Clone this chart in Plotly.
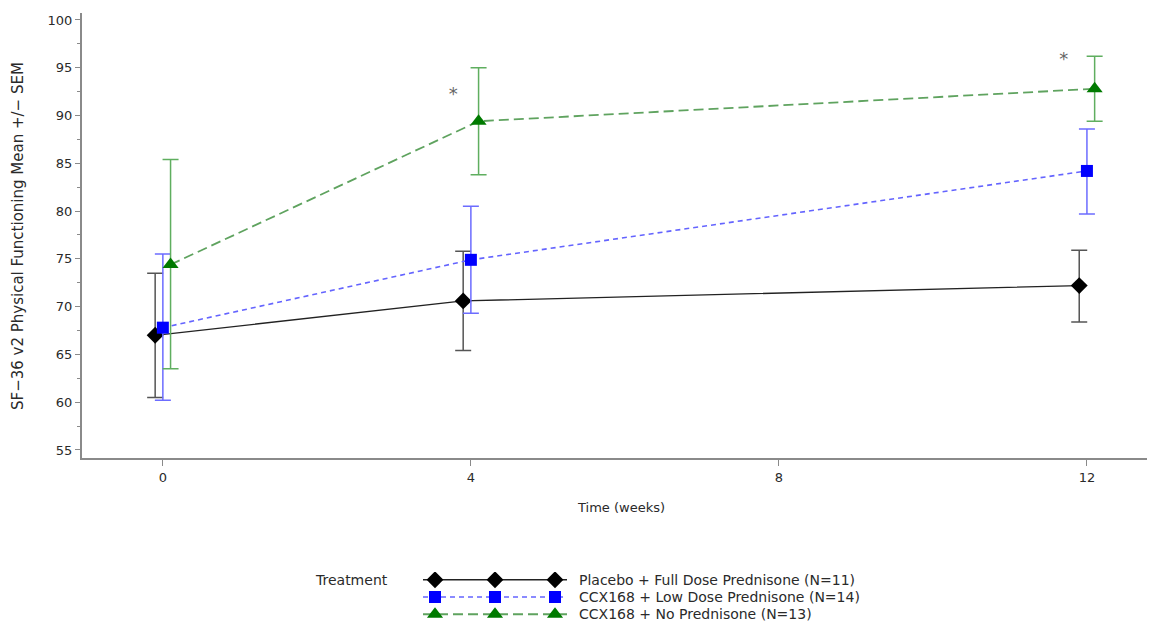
import plotly.graph_objects as go

# ---- data ----
weeks = [0, 4, 12]
series_names = ["Placebo + Full Dose Prednisone (N=11)",
                "CCX168 + Low Dose Prednisone (N=14)",
                "CCX168 + No Prednisone (N=13)"]
placebo_mean = [67.0, 70.6, 72.2]
placebo_upper = [73.5, 75.8, 75.9]
placebo_lower = [60.5, 65.4, 68.4]
low_mean = [67.8, 74.9, 84.2]
low_upper = [75.5, 80.5, 88.6]
low_lower = [60.2, 69.3, 79.7]
nopred_mean = [74.4, 89.4, 92.8]
nopred_upper = [85.4, 95.0, 96.2]
nopred_lower = [63.5, 83.8, 89.4]
x_offsets = [-0.1, 0.0, 0.1]
star_x = [3.77, 11.70]
star_y = [92.05, 95.8]
x_ticks = [0, 4, 8, 12]
y_ticks = [55, 60, 65, 70, 75, 80, 85, 90, 95, 100]

W, H = 1160, 623
FONT = "DejaVu Sans"
TXT = "#2a2a2a"

styles = [
    dict(line=dict(color="#222222", width=1.3, dash="solid"),
         marker=dict(symbol="diamond", color="#000000", size=13),
         err="#555555"),
    dict(line=dict(color="#6464ff", width=1.6, dash="5px,4px"),
         marker=dict(symbol="square", color="#0000ff", size=12),
         err="#6c6cff"),
    dict(line=dict(color="#5fa35f", width=1.8, dash="10px,5px"),
         marker=dict(symbol="triangle-up", color="#007a00", size=14),
         err="#5fae5f"),
]
means = [placebo_mean, low_mean, nopred_mean]
uppers = [placebo_upper, low_upper, nopred_upper]
lowers = [placebo_lower, low_lower, nopred_lower]

fig = go.Figure()
for i in range(3):
    xs = [w + x_offsets[i] for w in weeks]
    m = means[i]
    fig.add_trace(go.Scatter(
        x=xs, y=m, mode="lines+markers",
        line=styles[i]["line"],
        marker=styles[i]["marker"],
        error_y=dict(type="data", symmetric=False,
                     array=[u - v for u, v in zip(uppers[i], m)],
                     arrayminus=[v - l for v, l in zip(m, lowers[i])],
                     color=styles[i]["err"], thickness=1.5, width=8),
        showlegend=False, xaxis="x", yaxis="y"))

fig.add_trace(go.Scatter(x=star_x, y=star_y, mode="text", text=["*", "*"],
                         textfont=dict(size=18, color="#666666", family=FONT),
                         showlegend=False, xaxis="x", yaxis="y"))

# custom legend samples
rows = [2, 1, 0]
for i in range(3):
    fig.add_trace(go.Scatter(x=[-0.2, 2.2], y=[rows[i]] * 2, mode="lines",
                             line=styles[i]["line"], showlegend=False,
                             xaxis="x2", yaxis="y2", hoverinfo="skip"))
    fig.add_trace(go.Scatter(x=[0, 1, 2], y=[rows[i]] * 3, mode="markers",
                             marker=styles[i]["marker"], showlegend=False,
                             xaxis="x2", yaxis="y2", hoverinfo="skip"))

annotations = []
row_px = [580, 597, 614]
for i in range(3):
    annotations.append(dict(x=577 / W, y=1 - row_px[i] / H, xref="paper", yref="paper",
                            text=series_names[i], showarrow=False, xanchor="left",
                            yanchor="middle", font=dict(size=14, color=TXT, family=FONT)))
annotations.append(dict(x=313 / W, y=1 - row_px[0] / H, xref="paper", yref="paper",
                        text="Treatment", showarrow=False, xanchor="left", yanchor="middle",
                        font=dict(size=14, color=TXT, family=FONT)))
annotations.append(dict(x=621 / W, y=1 - 507 / H, xref="paper", yref="paper",
                        text="Time (weeks)", showarrow=False, xanchor="center",
                        yanchor="middle", font=dict(size=13, color=TXT, family=FONT)))
annotations.append(dict(x=18 / W, y=1 - 236 / H, xref="paper", yref="paper",
                        text="SF\u221236 v2 Physical Functioning Mean +/\u2212 SEM",
                        textangle=-90, showarrow=False, xanchor="center",
                        yanchor="middle", font=dict(size=15, color=TXT, family=FONT)))

axis_col = "#8a8a8a"
fig.update_layout(
    width=W, height=H, margin=dict(l=0, r=0, t=0, b=0),
    paper_bgcolor="white", plot_bgcolor="white",
    font=dict(family=FONT, color=TXT),
    annotations=annotations,
    xaxis=dict(domain=[82 / W, 1147 / W], range=[-1.05, 12.78],
               tickvals=x_ticks, ticks="outside", ticklen=6, tickcolor=axis_col,
               showline=True, linecolor=axis_col, linewidth=2, showgrid=False,
               zeroline=False, tickfont=dict(size=13, color=TXT),
               anchor="y"),
    yaxis=dict(domain=[1 - 458 / H, 1 - 13 / H], range=[54.16, 100.73],
               tickvals=y_ticks, ticks="outside", ticklen=5, tickcolor=axis_col,
               minor=dict(dtick=2.5, tick0=0, ticks="outside", ticklen=3,
                          tickcolor=axis_col, showgrid=False),
               showline=True, linecolor=axis_col, linewidth=2, showgrid=False,
               zeroline=False, tickfont=dict(size=13, color=TXT),
               anchor="x"),
    xaxis2=dict(domain=[423 / W, 567 / W], range=[-0.2, 2.2], visible=False,
                anchor="y2", fixedrange=True),
    yaxis2=dict(domain=[1 - 622 / H, 1 - 572 / H], range=[-0.45, 2.45], visible=False,
                anchor="x2", fixedrange=True),
)

fig.write_html("out.html", config={"displayModeBar": False},
               post_script="document.body.style.margin='0';document.body.style.overflow='hidden';")
